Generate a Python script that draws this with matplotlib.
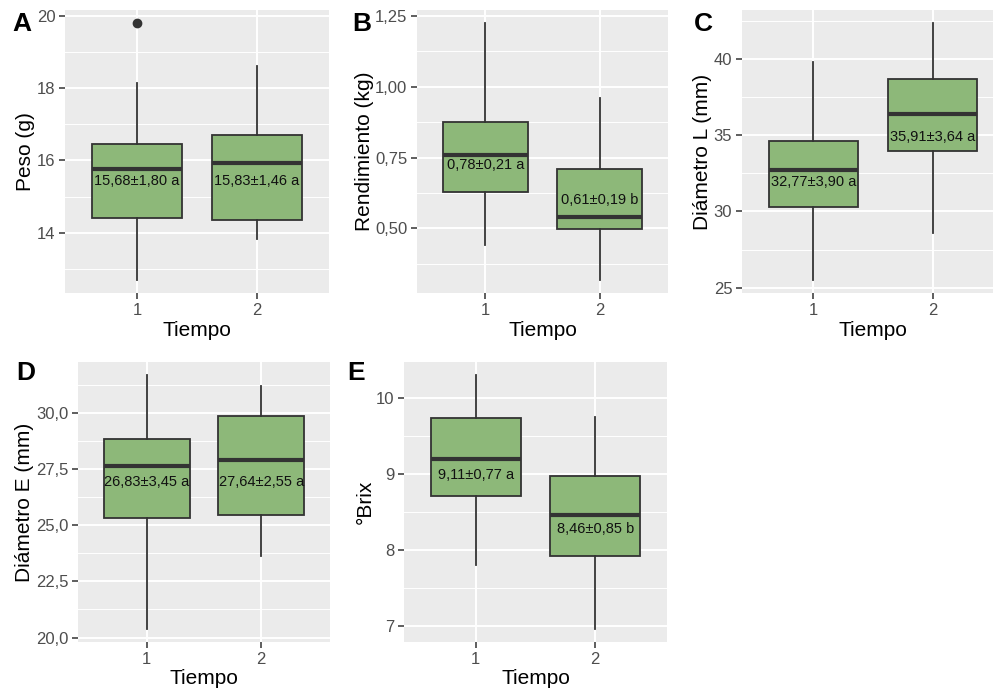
import matplotlib
matplotlib.use('Agg')
import matplotlib.pyplot as plt
from matplotlib.ticker import FuncFormatter, FixedLocator

plt.rcParams['font.family'] = ['Liberation Sans', 'DejaVu Sans']

# Box statistics per panel, groups Tiempo 1 and 2
tiempo = [1, 2]

peso_whislo = [12.69, 13.83]
peso_q1 = [14.42, 14.36]
peso_med = [15.76, 15.94]
peso_q3 = [16.45, 16.70]
peso_whishi = [18.14, 18.60]
peso_fliers = [[19.80], []]
peso_labels = ['15,68±1,80 a', '15,83±1,46 a']
peso_label_y = [15.42, 15.42]

rend_whislo = [0.442, 0.317]
rend_q1 = [0.629, 0.497]
rend_med = [0.758, 0.539]
rend_q3 = [0.874, 0.711]
rend_whishi = [1.226, 0.959]
rend_labels = ['0,78±0,21 a', '0,61±0,19 b']
rend_label_y = [0.723, 0.599]

diaml_whislo = [25.50, 28.62]
diaml_q1 = [30.30, 33.97]
diaml_med = [32.72, 36.38]
diaml_q3 = [34.63, 38.69]
diaml_whishi = [39.82, 42.36]
diaml_labels = ['32,77±3,90 a', '35,91±3,64 a']
diaml_label_y = [31.90, 34.91]

diame_whislo = [20.37, 23.63]
diame_q1 = [25.31, 25.45]
diame_med = [27.61, 27.91]
diame_q3 = [28.85, 29.85]
diame_whishi = [31.69, 31.21]
diame_labels = ['26,83±3,45 a', '27,64±2,55 a']
diame_label_y = [26.93, 26.93]

brix_whislo = [7.81, 6.96]
brix_q1 = [8.71, 7.93]
brix_med = [9.20, 8.47]
brix_q3 = [9.74, 8.98]
brix_whishi = [10.31, 9.75]
brix_labels = ['9,11±0,77 a', '8,46±0,85 b']
brix_label_y = [8.99, 8.28]

FILL = '#8DB879'
DARK = '#333333'
PANEL_BG = '#EBEBEB'

W, H = 993, 694
fig = plt.figure(figsize=(W / 100, H / 100), dpi=100)


def px_axes(x0, y0, x1, y1):
    return fig.add_axes([x0 / W, 1 - y1 / H, (x1 - x0) / W, (y1 - y0) / H])


def make_stats(lo, q1, med, q3, hi, fliers=None):
    stats = []
    for i in range(len(med)):
        stats.append({
            'whislo': lo[i], 'q1': q1[i], 'med': med[i], 'q3': q3[i],
            'whishi': hi[i], 'fliers': fliers[i] if fliers else [],
        })
    return stats


def draw_panel(ax, stats, labels, label_y, major, minor, fmt, ylabel, letter, letter_xy):
    ax.set_facecolor(PANEL_BG)
    for s in ax.spines.values():
        s.set_visible(False)
    ax.set_axisbelow(True)

    ax.bxp(stats, positions=tiempo, widths=0.75, patch_artist=True,
           showcaps=False, zorder=3,
           boxprops=dict(facecolor=FILL, edgecolor=DARK, linewidth=1.3),
           medianprops=dict(color=DARK, linewidth=3.0, solid_capstyle='butt'),
           whiskerprops=dict(color=DARK, linewidth=1.3),
           flierprops=dict(marker='o', markerfacecolor=DARK, markeredgecolor=DARK,
                           markersize=6))

    for x, lab, y in zip(tiempo, labels, label_y):
        ax.text(x, y, lab, ha='center', va='center', fontsize=10.5,
                color='#111111', zorder=4)

    ax.set_xlim(0.4, 2.6)
    ax.margins(y=0.05)
    ax.set_xticks(tiempo)
    ax.set_xticklabels([str(t) for t in tiempo])
    ax.yaxis.set_major_locator(FixedLocator(major))
    ax.yaxis.set_minor_locator(FixedLocator(minor))
    ax.yaxis.set_major_formatter(FuncFormatter(lambda v, p: fmt.format(v).replace('.', ',')))

    ax.grid(which='major', color='white', linewidth=1.4)
    ax.grid(which='minor', axis='y', color='white', linewidth=0.7)
    ax.tick_params(which='major', length=4, width=1.1, color=DARK,
                   labelcolor='#4D4D4D', labelsize=12, pad=3)
    ax.tick_params(which='minor', length=0)

    ax.set_xlabel('Tiempo', fontsize=15, color='black', labelpad=2)
    ax.set_ylabel(ylabel, fontsize=15, color='black', labelpad=1)

    fig.text(letter_xy[0] / W, 1 - letter_xy[1] / H, letter, fontsize=19,
             fontweight='bold', va='top', ha='left')


ax_a = px_axes(65, 10, 329, 293)
draw_panel(ax_a, make_stats(peso_whislo, peso_q1, peso_med, peso_q3, peso_whishi, peso_fliers),
           peso_labels, peso_label_y, [14, 16, 18, 20], [13, 15, 17, 19], '{:.0f}',
           'Peso (g)', 'A', (12, 12))

ax_b = px_axes(417, 10, 668, 293)
draw_panel(ax_b, make_stats(rend_whislo, rend_q1, rend_med, rend_q3, rend_whishi),
           rend_labels, rend_label_y, [0.5, 0.75, 1.0, 1.25], [0.375, 0.625, 0.875, 1.125],
           '{:.2f}', 'Rendimiento (kg)', 'B', (352, 12))

ax_c = px_axes(742, 10, 1004, 293)
draw_panel(ax_c, make_stats(diaml_whislo, diaml_q1, diaml_med, diaml_q3, diaml_whishi),
           diaml_labels, diaml_label_y, [25, 30, 35, 40], [27.5, 32.5, 37.5, 42.5],
           '{:.0f}', 'Diámetro L (mm)', 'C', (694, 12))

ax_d = px_axes(78, 362, 330, 642)
draw_panel(ax_d, make_stats(diame_whislo, diame_q1, diame_med, diame_q3, diame_whishi),
           diame_labels, diame_label_y, [20, 22.5, 25, 27.5, 30],
           [21.25, 23.75, 26.25, 28.75, 31.25], '{:.1f}', 'Diámetro E (mm)', 'D', (16, 361))

ax_e = px_axes(404, 362, 667, 642)
draw_panel(ax_e, make_stats(brix_whislo, brix_q1, brix_med, brix_q3, brix_whishi),
           brix_labels, brix_label_y, [7, 8, 9, 10], [7.5, 8.5, 9.5], '{:.0f}',
           '°Brix', 'E', (347, 361))

fig.savefig('out.png', dpi=100, facecolor='white')
